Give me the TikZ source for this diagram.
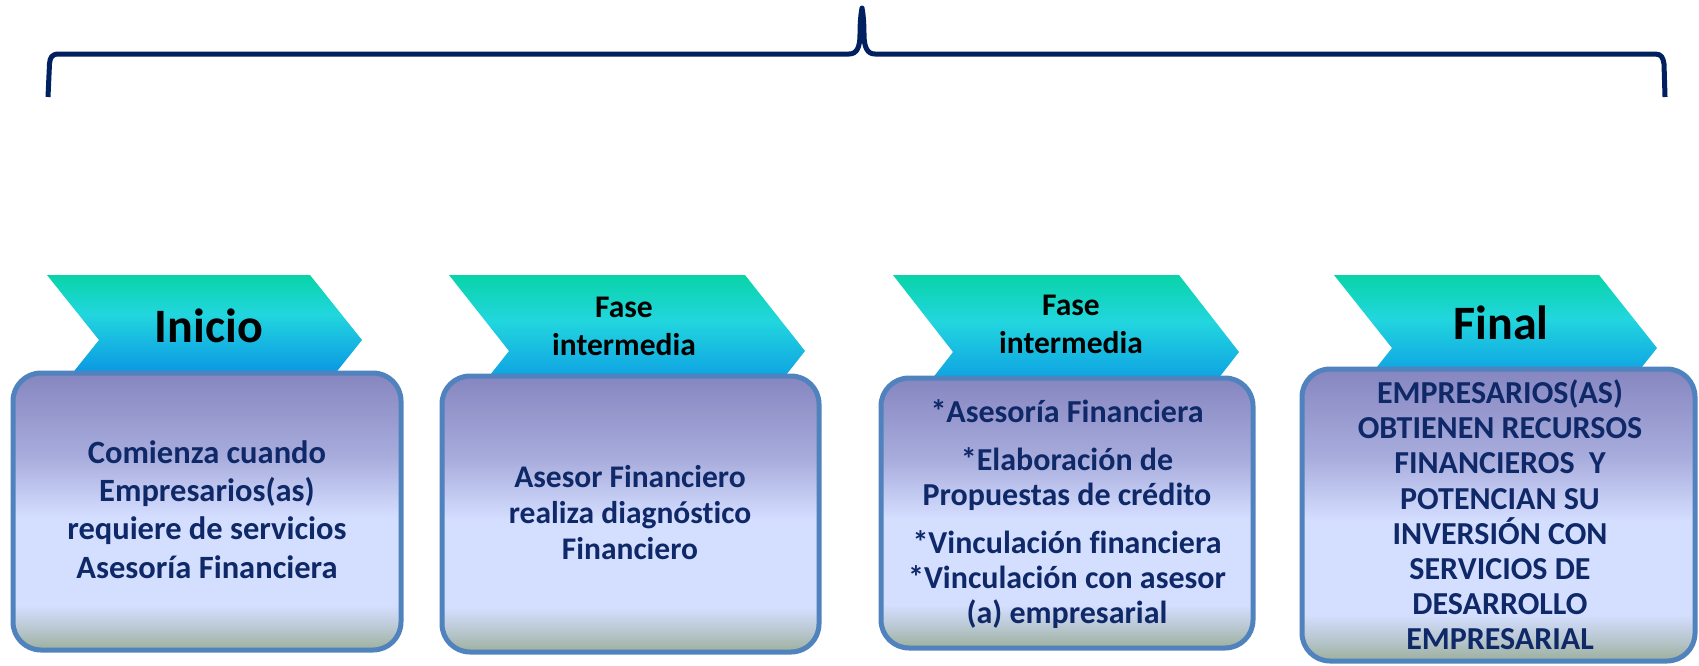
\documentclass[tikz,border=0pt]{standalone}
\usepackage{fontspec}
\setmainfont{Carlito}[Ligatures=NoCommon]
\definecolor{bracecol}{RGB}{0,32,96}
\definecolor{boxtextcol}{RGB}{14,40,104}
\definecolor{bordercol}{RGB}{80,130,190}
\definecolor{bxtop}{RGB}{134,134,192}
\definecolor{bxmid}{RGB}{168,172,220}
\definecolor{bxlight}{RGB}{212,222,255}
\definecolor{bxlow}{RGB}{186,200,210}
\definecolor{bxbot}{RGB}{156,176,156}
\definecolor{chtop}{RGB}{8,212,168}
\definecolor{chmid}{RGB}{34,214,222}
\definecolor{chbot}{RGB}{10,150,228}
\definecolor{chend}{RGB}{10,140,228}
\pgfdeclareverticalshading{boxshade}{100bp}{color(0bp)=(bxbot); color(25bp)=(bxbot); color(29bp)=(bxlow); color(33bp)=(bxlight); color(49bp)=(bxlight); color(60bp)=(bxmid); color(75bp)=(bxtop); color(100bp)=(bxtop)}
\pgfdeclareverticalshading{chevshade}{100bp}{color(0bp)=(chend); color(25bp)=(chend); color(37bp)=(chbot); color(60bp)=(chmid); color(75bp)=(chtop); color(100bp)=(chtop)}
\tikzset{
  bracestyle/.style={draw=bracecol, line width=5pt, line join=round},
  chevstyle/.style={shading=chevshade},
  boxstyle/.style={shading=boxshade, draw=bordercol, line width=5pt, rounded corners=28pt},
  titletext/.style={inner sep=0pt, anchor=base, text=black, font=\bfseries\fontsize{48}{56}\selectfont},
  phasetext/.style={inner sep=0pt, anchor=base, text=black, font=\bfseries\fontsize{31.5}{36}\selectfont},
  boxtextlg/.style={inner sep=0pt, anchor=base, text=boxtextcol, font=\bfseries\fontsize{32.5}{38}\selectfont},
  boxtext/.style={inner sep=0pt, anchor=base, text=boxtextcol, font=\bfseries\fontsize{31.5}{36}\selectfont},
  boxtextsm/.style={inner sep=0pt, anchor=base, text=boxtextcol, font=\bfseries\fontsize{32}{35}\selectfont}
}
\newcommand{\mychev}[5]{% xl, xr, ytop, half height, depth
  \shade[chevstyle] (#1,#3) -- (#2,#3) -- ({#2+#5},{#3+#4}) -- (#2,{#3+2*#4}) -- (#1,{#3+2*#4}) -- ({#1+#5},{#3+#4}) -- cycle;}
\begin{document}
\begin{tikzpicture}[x=1pt,y=-1pt]
\useasboundingbox (0,0) rectangle (1699,665);
% brace
\draw[bracestyle] (48,97) -- (49.5,64) .. controls (50,57) and (52,54) .. (59,54)
  -- (849,54) .. controls (857,54) and (860,47) .. (860,34) .. controls (860,22) and (861,13) .. (862,8)
  .. controls (863,13) and (864,22) .. (864,34) .. controls (864,47) and (867,54) .. (875,54)
  -- (1655,54) .. controls (1661,54) and (1663,57) .. (1664,64) -- (1665,97);
% chevrons
\mychev{47}{310}{275}{65}{52}
\mychev{449}{745}{275}{76}{60}
\mychev{893}{1179}{275}{77}{60}
\mychev{1334}{1599}{275}{73}{58}
% boxes
\shadedraw[boxstyle] (13,373) rectangle (401,650);
\shadedraw[boxstyle] (442,376) rectangle (819,652);
\shadedraw[boxstyle] (881,378) rectangle (1253,648);
\shadedraw[boxstyle] (1302,369) rectangle (1695,661);
% chevron titles
\node[titletext] (t1) at (209,342) {Inicio};
\node[phasetext] (t2a) at (624,317) {Fase};
\node[phasetext] (t2b) at (624,355) {intermedia};
\node[phasetext] (t3a) at (1071,315) {Fase};
\node[phasetext] (t3b) at (1071,353) {intermedia};
\node[titletext] (t4) at (1501,339) {Final};
% box texts
\foreach \y/\t [count=\i] in {463/Comienza cuando, 501/Empresarios(as), 539/requiere de servicios, 578/Asesoría Financiera}
  \node[boxtextlg] (b1-\i) at (207,\y) {\t};
\foreach \y/\t [count=\i] in {487/Asesor Financiero, 523/realiza diagnóstico, 559/Financiero}
  \node[boxtext] (b2-\i) at (630,\y) {\t};
\foreach \y/\t [count=\i] in {422/*Asesoría Financiera, 470/*Elaboración de, 505/Propuestas de crédito, 553/*Vinculación financiera, 588/*Vinculación con asesor, 623/(a) empresarial}
  \node[boxtextsm] (b3-\i) at (1067,\y) {\t};
\foreach \y/\t [count=\i] in {403/EMPRESARIOS(AS), 438/OBTIENEN RECURSOS, 473/FINANCIEROS\ \ Y, 509/POTENCIAN SU, 544/INVERSIÓN CON, 579/SERVICIOS DE, 614/DESARROLLO, 649/EMPRESARIAL}
  \node[boxtextsm] (b4-\i) at (1500,\y) {\t};
\end{tikzpicture}
\end{document}
